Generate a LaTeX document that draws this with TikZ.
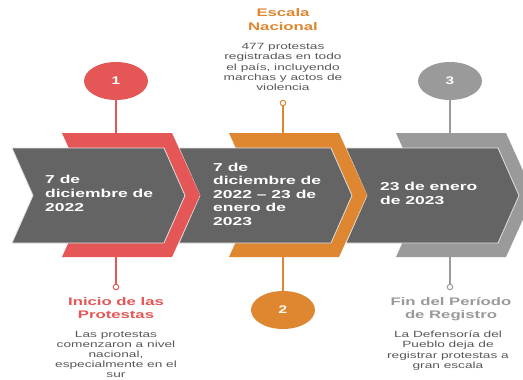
\documentclass[tikz,border=0pt]{standalone}
\usepackage{fontspec}
\setmainfont{Liberation Sans}
\usetikzlibrary{shapes.geometric}
\definecolor{cred}{HTML}{E45756}
\definecolor{corange}{HTML}{DF8630}
\definecolor{cgray}{HTML}{9A9A9A}
\definecolor{cdark}{HTML}{646464}
\definecolor{ctext}{HTML}{595959}
\newcommand\txc[3]{\scalebox{1.52}[1]{\fontsize{#1}{#2}\selectfont\begin{tabular}{@{}c@{}}#3\end{tabular}}}
\newcommand\txl[3]{\scalebox{1.52}[1]{\fontsize{#1}{#2}\selectfont\begin{tabular}{@{}l@{}}#3\end{tabular}}}
\tikzset{
  bignum/.style={ellipse, fill=#1, minimum width=64pt, minimum height=38pt, inner sep=0pt, text=white, font=\bfseries},
  dot/.style={circle, draw=#1, fill=white, line width=1pt, minimum size=5.5pt, inner sep=0pt},
  stem/.style={draw=#1, line width=1.4pt},
  txt/.style={inner sep=0pt},
  graychev/.style={fill=cdark, draw=white!80!cdark, line width=0.8pt},
}
\begin{document}
\begin{tikzpicture}[x=1pt,y=-1pt]
\useasboundingbox (0,0) rectangle (523,380);
\clip (0,0) rectangle (523,380);
\fill[white] (0,0) rectangle (523,380);
% chevrons, drawn right to left
\foreach \o/\c in {334/cgray,167/corange,0/cred}{
  \fill[\c] (62+\o,133) -- (172+\o,133) -- (200+\o,195) -- (172+\o,257) -- (62+\o,257) -- (90+\o,195) -- cycle;
  \path[graychev] (12+\o,148) -- (164+\o,148) -- (185+\o,195.5) -- (164+\o,243) -- (12+\o,243) -- (33+\o,195.5) -- cycle;
}
% anchor points on chevrons
\coordinate (t1) at (116,133); \coordinate (b1) at (116,257);
\coordinate (t2) at (283,133); \coordinate (b2) at (283,257);
\coordinate (t3) at (450,133); \coordinate (b3) at (450,257);
% markers
\node[bignum=cred] (n1) at (116,81) {\fontsize{11}{13}\selectfont\scalebox{1.4}[1]{1}};
\node[bignum=cgray] (n3) at (450,81) {\fontsize{11}{13}\selectfont\scalebox{1.4}[1]{3}};
\node[bignum=corange] (n2) at (283,310) {\fontsize{11}{13}\selectfont\scalebox{1.4}[1]{2}};
\node[dot=cred] (d1) at (116,287) {};
\node[dot=corange] (d2) at (283,103) {};
\node[dot=cgray] (d3) at (450,287) {};
\draw[stem=cred] (n1) -- (t1);
\draw[stem=cred] (b1) -- (d1);
\draw[stem=corange] (d2) -- (t2);
\draw[stem=corange] (b2) -- (n2);
\draw[stem=cgray] (n3) -- (t3);
\draw[stem=cgray] (b3) -- (d3);
% chevron texts
\node[txt, anchor=west, text=white, font=\bfseries] (c1) at (45,195) {\txl{11.5}{14}{7 de\\diciembre de\\2022}};
\node[txt, anchor=west, text=white, font=\bfseries] (c2) at (213,195.5) {\txl{11.5}{13.6}{7 de\\diciembre de\\2022 – 23 de\\enero de\\2023}};
\node[txt, anchor=west, text=white, font=\bfseries] (c3) at (380,195) {\txl{11.5}{14}{23 de enero\\de 2023}};
% top texts
\node[txt, text=corange, font=\bfseries] (h2) at (283,20.5) {\txc{11}{14}{Escala\\Nacional}};
\node[txt, text=ctext] (p2) at (283,68) {\txc{9}{10.3}{477 protestas\\registradas en todo\\el país, incluyendo\\marchas y actos de\\violencia}};
% bottom texts
\node[txt, text=cred, font=\bfseries] (h1) at (116,309.5) {\txc{11}{13}{Inicio de las\\Protestas}};
\node[txt, text=ctext] (p1) at (116,355) {\txc{9}{10}{Las protestas\\comenzaron a nivel\\nacional,\\especialmente en el\\sur}};
\node[txt, text=cgray, font=\bfseries] (h3) at (451,309.5) {\txc{11}{13}{Fin del Período\\de Registro}};
\node[txt, text=ctext] (p3) at (448,351) {\txc{9}{10.3}{La Defensoría del\\Pueblo deja de\\registrar protestas a\\gran escala}};
\end{tikzpicture}
\end{document}
